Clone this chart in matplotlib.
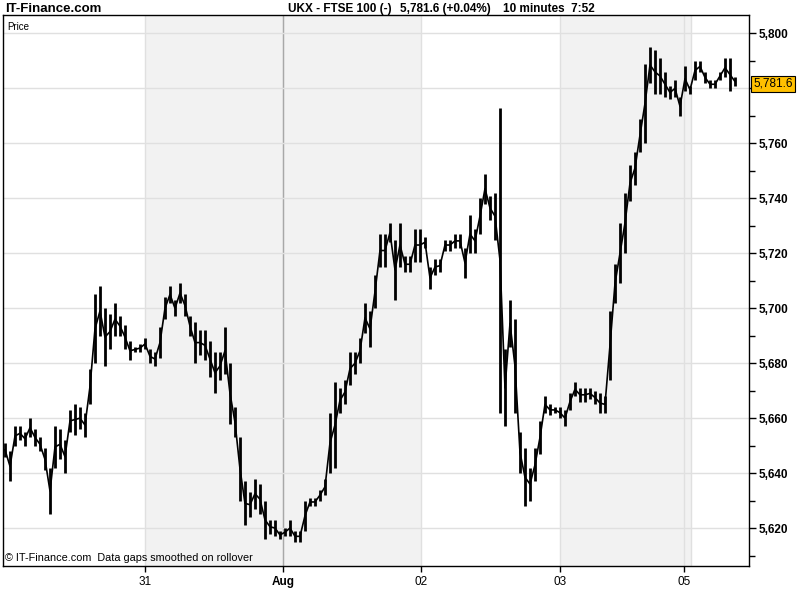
import numpy as np
import matplotlib
matplotlib.use("Agg")
import matplotlib.pyplot as plt
from matplotlib.ticker import FuncFormatter, MultipleLocator

plt.rcParams['font.family'] = ['Liberation Sans', 'DejaVu Sans']

lows_jul30 = [5646, 5637, 5650, 5652, 5650, 5653, 5650, 5648, 5641, 5625,
              5642, 5645, 5640, 5655, 5654, 5656, 5653, 5665, 5680, 5690,
              5679, 5685, 5690, 5690, 5685, 5681, 5684, 5684, 5685]
highs_jul30 = [5651, 5648, 5657, 5657, 5655, 5660, 5656, 5653, 5649, 5642,
               5657, 5656, 5652, 5663, 5665, 5664, 5662, 5678, 5705, 5708,
               5700, 5698, 5702, 5697, 5694, 5688, 5686, 5687, 5689]

lows_jul31 = [5680, 5679, 5682, 5696, 5702, 5697, 5702, 5697, 5690, 5680,
              5683, 5681, 5675, 5669, 5674, 5676, 5658, 5653, 5630, 5621,
              5624, 5627, 5625, 5616, 5618, 5617, 5616]
highs_jul31 = [5685, 5684, 5693, 5704, 5708, 5703, 5709, 5705, 5697, 5695,
               5692, 5692, 5688, 5684, 5684, 5693, 5680, 5664, 5653, 5637,
               5633, 5638, 5636, 5630, 5623, 5623, 5619]

lows_aug01 = [5617, 5617, 5615, 5615, 5619, 5628, 5628, 5630, 5632, 5640,
              5642, 5662, 5665, 5672, 5676, 5680, 5691, 5686, 5700, 5715,
              5715, 5724, 5703, 5715, 5713, 5713, 5717, 5717]
highs_aug01 = [5620, 5623, 5619, 5619, 5630, 5631, 5631, 5634, 5638, 5662,
               5673, 5671, 5674, 5684, 5684, 5689, 5702, 5699, 5712, 5727,
               5727, 5731, 5725, 5731, 5719, 5719, 5729, 5729]

lows_aug02 = [5722, 5707, 5712, 5713, 5721, 5721, 5722, 5722, 5711, 5720,
              5720, 5727, 5738, 5732, 5725, 5662, 5657, 5686, 5662, 5640,
              5628, 5630, 5637, 5647, 5662, 5661, 5662]
highs_aug02 = [5726, 5715, 5718, 5718, 5725, 5725, 5727, 5727, 5722, 5734,
               5729, 5740, 5749, 5741, 5742, 5773, 5685, 5703, 5696, 5655,
               5649, 5642, 5649, 5659, 5668, 5665, 5664]

lows_aug03 = [5660, 5657, 5663, 5668, 5666, 5666, 5667, 5665, 5662, 5662,
              5674, 5702, 5709, 5720, 5739, 5745, 5757, 5760, 5782, 5778,
              5778, 5777, 5776, 5777, 5770, 5779]
highs_aug03 = [5664, 5663, 5669, 5673, 5671, 5671, 5671, 5670, 5669, 5668,
               5699, 5716, 5731, 5742, 5752, 5757, 5769, 5789, 5795, 5794,
               5791, 5786, 5781, 5783, 5777, 5788]

lows_aug05 = [5778, 5783, 5786, 5782, 5780, 5780, 5783, 5784, 5779, 5781]
highs_aug05 = [5781, 5790, 5790, 5786, 5783, 5783, 5786, 5791, 5791, 5784]

last_price = 5781.6
day_labels = ["31", "Aug", "02", "03", "05"]
day_starts = [28, 55.6, 83.2, 111, 135.8]   # bar index where each label sits

lows = np.array(lows_jul30 + lows_jul31 + lows_aug01 + lows_aug02 + lows_aug03 + lows_aug05, float)
highs = np.array(highs_jul30 + highs_jul31 + highs_aug01 + highs_aug02 + highs_aug03 + highs_aug05, float)
idx = np.arange(len(lows))
mids = (lows + highs) / 2

fig = plt.figure(figsize=(8, 6), dpi=100)
ax = fig.add_axes([3 / 800, 34 / 600, 746 / 800, 551 / 600])

# shaded sessions
ax.axvspan(day_starts[0], day_starts[2], color="#f2f2f2", zorder=0, lw=0)
ax.axvspan(day_starts[3], day_starts[4] + 1.4, color="#f2f2f2", zorder=0, lw=0)
for d in day_starts:
    ax.axvline(d, color="#e0e0e0", lw=1, zorder=1)
ax.axvline(day_starts[4] + 1.4, color="#e0e0e0", lw=1, zorder=1)
ax.axvline(day_starts[1], color="#a8a8a8", lw=1, zorder=1)

for v in range(5620, 5801, 20):
    ax.axhline(v, color="#e0e0e0", lw=1, zorder=1)

ax.vlines(idx, lows, highs, color="black", lw=2.0, zorder=3)
ax.plot(idx, mids, color="black", lw=1.2, zorder=3)

ax.set_xlim(-0.4, 148.8)
ax.set_ylim(5606.2, 5806.7)

# the 5,780 label sits under the last-price box
def ylab(v, p):
    if abs(v - 5780) < 1:
        return ""
    return f"{v:,.0f}"

ax.yaxis.tick_right()
ax.yaxis.set_major_locator(MultipleLocator(20))
ax.yaxis.set_minor_locator(MultipleLocator(10))
ax.yaxis.set_major_formatter(FuncFormatter(ylab))
ax.tick_params(axis="y", which="major", length=5, width=1, labelsize=8.5, pad=2)
ax.tick_params(axis="y", which="minor", length=4, width=1)
for lab in ax.get_yticklabels():
    lab.set_fontweight("bold")

ax.set_xticks(day_starts)
ax.set_xticklabels(day_labels)
ax.tick_params(axis="x", length=4, width=1, labelsize=8.5, pad=3)
ax.get_xticklabels()[1].set_fontweight("bold")

for s in ax.spines.values():
    s.set_linewidth(1)
    s.set_color("black")

ax.text(0.006, 0.987, "Price", transform=ax.transAxes, fontsize=7, va="top", ha="left")
ax.text(0.003, 0.006, "\u00a9 IT-Finance.com  Data gaps smoothed on rollover",
        transform=ax.transAxes, fontsize=7.8, va="bottom", ha="left")

ax.annotate(f"{last_price:,.1f}", xy=(1.0, last_price), xycoords=("axes fraction", "data"),
            xytext=(3, 0), textcoords="offset points", fontsize=8.5, va="center", ha="left",
            bbox=dict(boxstyle="square,pad=0.18", fc="#ffc000", ec="black", lw=0.8))

fig.text(5 / 800, 1 - 9 / 600, "IT-Finance.com", fontsize=9.5, fontweight="bold", va="center", ha="left")
fig.text(288 / 800, 1 - 9 / 600, "UKX - FTSE 100 (-)", fontsize=8.5, fontweight="bold", va="center", ha="left")
fig.text(400 / 800, 1 - 9 / 600, "5,781.6 (+0.04%)", fontsize=8.5, fontweight="bold", va="center", ha="left")
fig.text(503 / 800, 1 - 9 / 600, "10 minutes  7:52", fontsize=8.5, fontweight="bold", va="center", ha="left")

fig.savefig("out.png", dpi=100)
